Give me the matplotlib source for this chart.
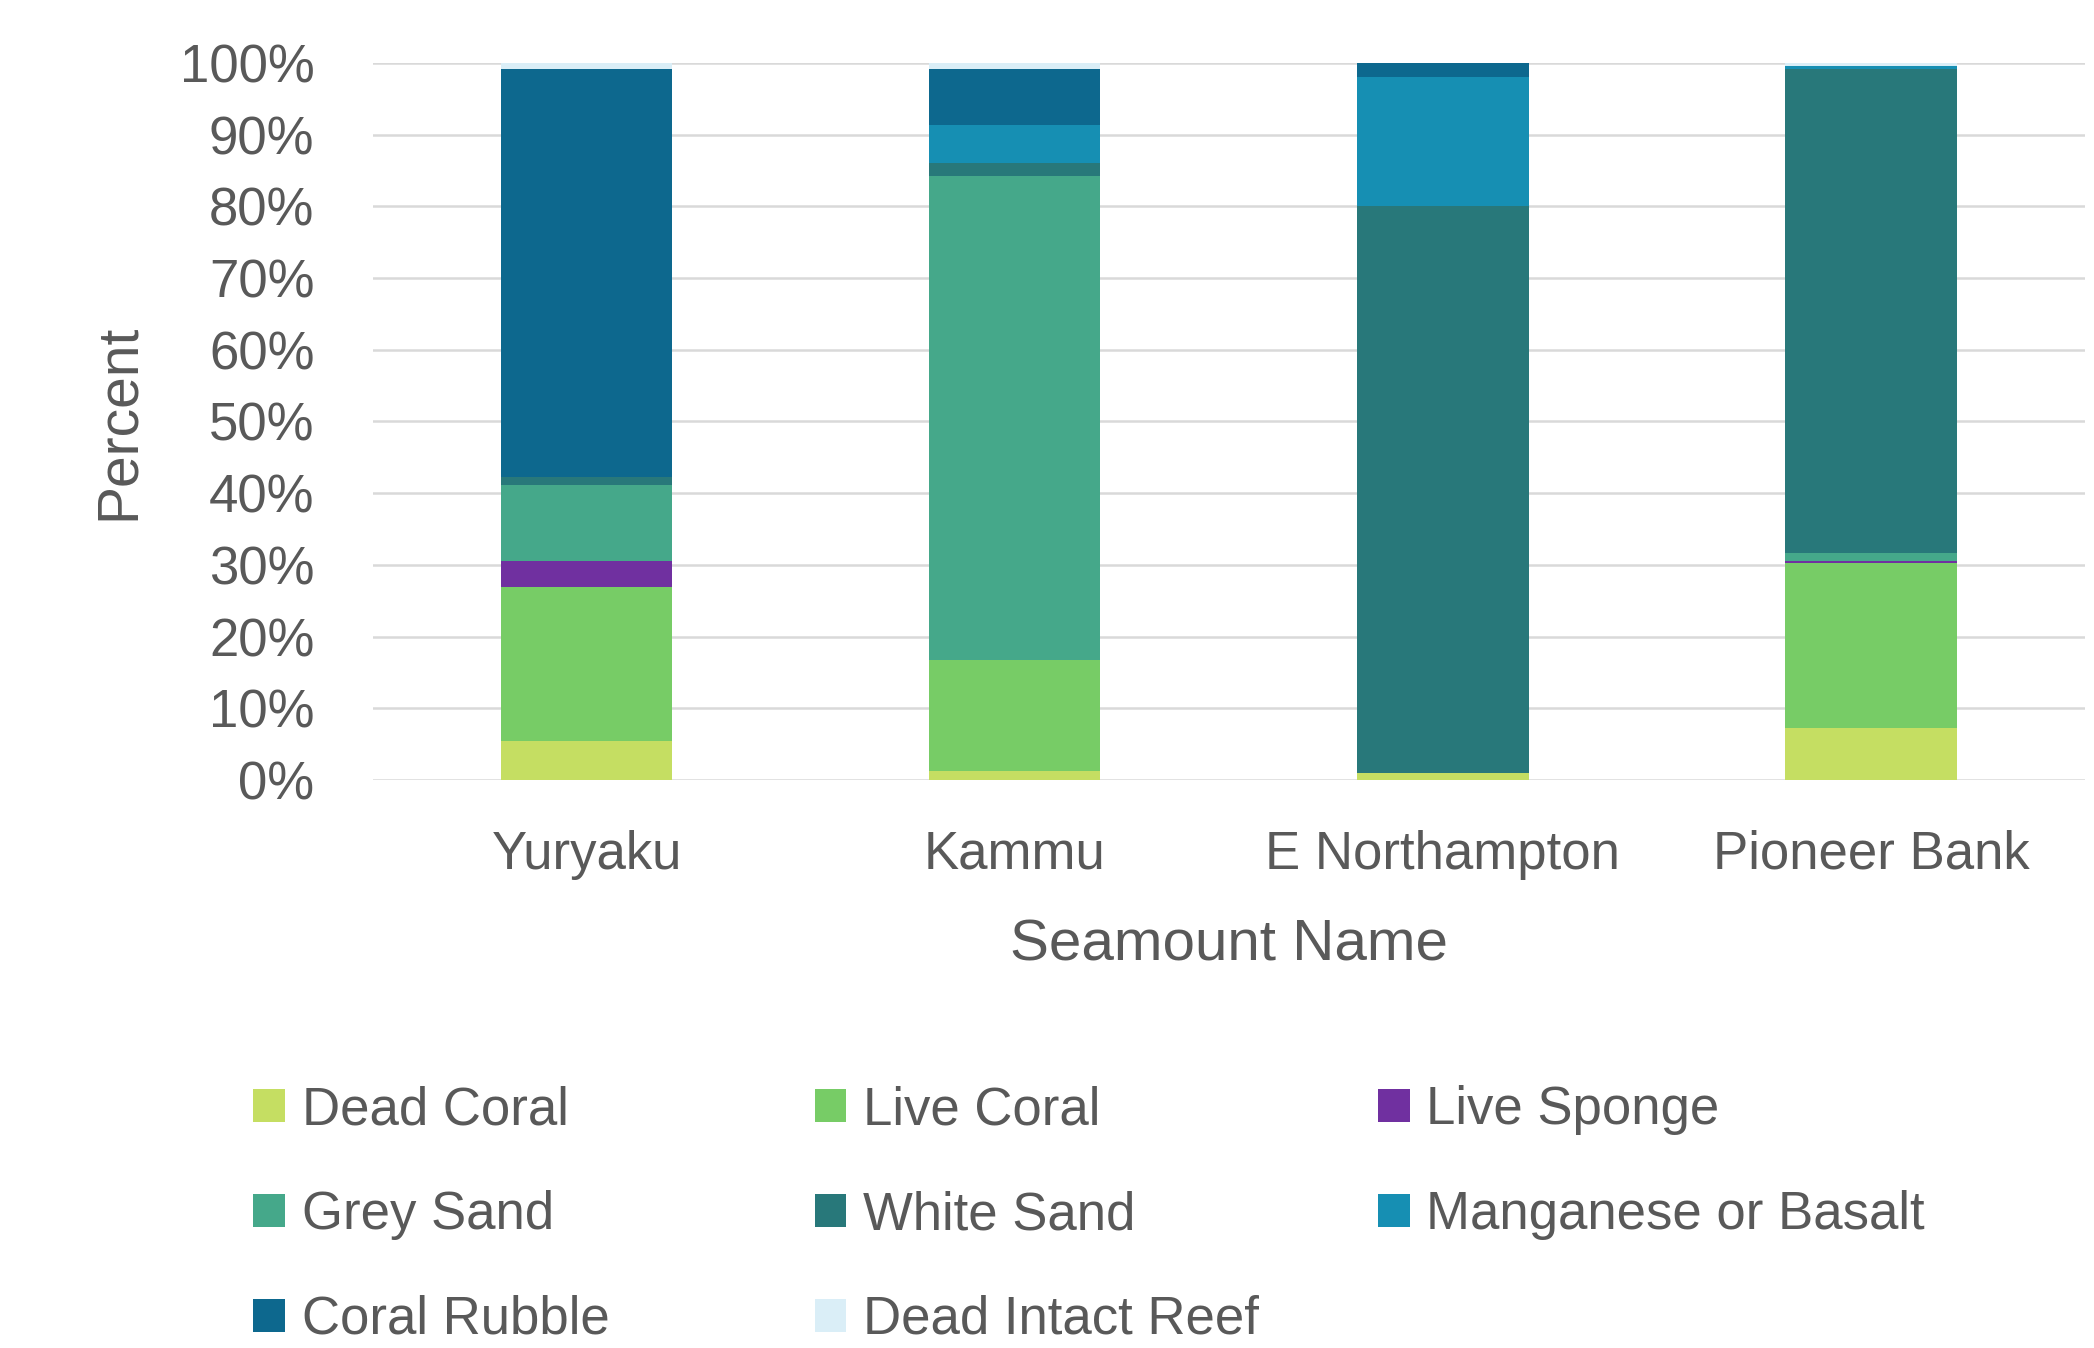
import numpy as np
from matplotlib import pyplot as plt
from matplotlib.patches import Patch

plt.rcParams['font.family'] = ['Liberation Sans', 'DejaVu Sans']

# seamounts and cover classes (percent of each seamount)
seamounts = ["Yuryaku", "Kammu", "E Northampton", "Pioneer Bank"]
dead_coral = [5.4, 1.2, 1.0, 7.3]
live_coral = [21.5, 15.5, 0.0, 22.9]
live_sponge = [3.6, 0.0, 0.0, 0.4]
grey_sand = [10.7, 67.6, 0.0, 1.0]
white_sand = [1.1, 1.7, 79.0, 67.5]
manganese_basalt = [0.0, 5.4, 18.0, 0.5]
coral_rubble = [56.8, 7.8, 2.0, 0.0]
dead_intact_reef = [0.9, 0.8, 0.0, 0.4]

series = [
    ("Dead Coral", dead_coral, "#c5de62"),
    ("Live Coral", live_coral, "#77cc66"),
    ("Live Sponge", live_sponge, "#7030a0"),
    ("Grey Sand", grey_sand, "#45a88a"),
    ("White Sand", white_sand, "#28787a"),
    ("Manganese or Basalt", manganese_basalt, "#168fb3"),
    ("Coral Rubble", coral_rubble, "#0d688e"),
    ("Dead Intact Reef", dead_intact_reef, "#daeef7"),
]

txt = "#595959"

fig = plt.figure(figsize=(20.94, 13.48), dpi=100)
ax = fig.add_axes([0.178, 0.4214, 0.8177, 0.5319])

x = np.arange(len(seamounts))
bottom = np.zeros(len(seamounts))
handles = {}
for name, vals, col in series:
    ax.bar(x, vals, width=0.4, bottom=bottom, color=col, linewidth=0)
    bottom += np.array(vals)
    handles[name] = Patch(facecolor=col, edgecolor="none")

ax.set_xlim(-0.5, len(seamounts) - 0.5)
ax.set_ylim(0, 100)
ax.set_yticks(np.arange(0, 101, 10))
ax.set_yticklabels([f"{v}%" for v in range(0, 101, 10)])
ax.set_xticks(x)
ax.set_xticklabels(seamounts)
ax.tick_params(axis="both", length=0, labelsize=38, colors=txt)
ax.tick_params(axis="y", pad=42)
ax.tick_params(axis="x", pad=36)

ax.yaxis.grid(True, color="#d9d9d9", linewidth=1.8)
ax.set_axisbelow(True)
for s in ax.spines.values():
    s.set_visible(False)

ax.set_xlabel("Seamount Name", fontsize=42, color=txt)
ax.xaxis.set_label_coords(0.5, -0.193)
ax.set_ylabel("Percent", fontsize=41, color=txt)
ax.yaxis.set_label_coords(-0.1325, 0.5)

# legend in three columns, filled row by row
columns = [["Dead Coral", "Grey Sand", "Coral Rubble"],
           ["Live Coral", "White Sand", "Dead Intact Reef"],
           ["Live Sponge", "Manganese or Basalt"]]
col_x = [0.121, 0.389, 0.658]
for cx, names in zip(col_x, columns):
    leg = fig.legend([handles[n] for n in names], names, loc="upper left",
                     bbox_to_anchor=(cx, 0.195), bbox_transform=fig.transFigure,
                     frameon=False, fontsize=38, handlelength=0.6, handleheight=0.6,
                     handletextpad=0.32, labelspacing=1.04, borderpad=0, borderaxespad=0)
    for t in leg.get_texts():
        t.set_color(txt)

fig.savefig("out.png", dpi=100)
